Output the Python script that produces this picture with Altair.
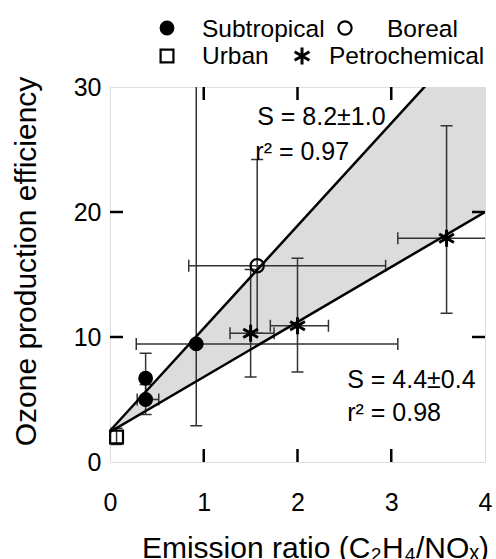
import altair as alt
import pandas as pd
import numpy as np

# ---------------- data ----------------
categories = ["Subtropical", "Boreal", "Urban", "Petrochemical"]

pt_type = ["Subtropical", "Subtropical", "Subtropical", "Boreal", "Urban",
           "Petrochemical", "Petrochemical", "Petrochemical"]
pt_x = [0.38, 0.38, 0.92, 1.57, 0.07, 1.50, 2.00, 3.59]
pt_y = [6.7, 5.0, 9.45, 15.7, 2.0, 10.3, 10.9, 17.9]

# vertical error bars (y low / y high)
ey_x = [0.38, 0.38, 0.92, 1.57, 0.07, 1.50, 2.00, 3.59]
ey_lo = [4.7, 3.8, 2.9, 10.3, 1.4, 6.8, 7.2, 11.9]
ey_hi = [8.7, 6.2, 33.0, 24.2, 2.7, 15.4, 16.3, 26.9]

# horizontal error bars (x low / x high)
ex_y = [5.0, 9.45, 15.7, 10.3, 10.9, 17.9]
ex_lo = [0.29, 0.28, 0.84, 1.28, 1.71, 3.07]
ex_hi = [0.52, 3.07, 2.94, 1.75, 2.33, 4.20]

# regression fits
fit_slope = [8.2, 4.4]
fit_icpt = [2.5, 2.4]
fit_xrange = [0.0, 4.0]
fit_labels = [["S = 8.2\u00b11.0", "r\u00b2 = 0.97"], ["S = 4.4\u00b10.4", "r\u00b2 = 0.98"]]

x_ticks = [0, 1, 2, 3, 4]
y_ticks = [0, 10, 20, 30]
inner_x_ticks = [1, 2, 3]
inner_y_ticks = [10, 20]

FONT = "Liberation Sans"
ASTERISK = "M0,-1L0,1M-0.866,-0.5L0.866,0.5M-0.866,0.5L0.866,-0.5"

# marker style per category
sym_style = {
    "Subtropical": dict(shape="circle", fill="black", size=165, strokeWidth=2.0),
    "Boreal": dict(shape="circle", fill="transparent", size=175, strokeWidth=2.2),
    "Urban": dict(shape="square", fill="transparent", size=165, strokeWidth=2.2),
    "Petrochemical": dict(shape=ASTERISK, fill="black", size=290, strokeWidth=3.0),
}

# ---------------- tables ----------------
points = pd.DataFrame({"type": pt_type, "x": pt_x, "y": pt_y})
yerr = pd.DataFrame({"x": ey_x, "lo": ey_lo, "hi": ey_hi})
xerr = pd.DataFrame({"y": ex_y, "lo": ex_lo, "hi": ex_hi})
xs = np.array(fit_xrange)
fits = pd.DataFrame({
    "x": np.concatenate([xs, xs]),
    "y": np.concatenate([fit_icpt[0] + fit_slope[0] * xs, fit_icpt[1] + fit_slope[1] * xs]),
    "fit": ["upper", "upper", "lower", "lower"],
})
band = pd.DataFrame({
    "x": xs,
    "lo": fit_icpt[1] + fit_slope[1] * xs,
    "hi": fit_icpt[0] + fit_slope[0] * xs,
})
one = pd.DataFrame({"k": [0]})

xscale = alt.Scale(domain=[0, 4], nice=False, zero=False)
yscale = alt.Scale(domain=[0, 30], nice=False, zero=False)

xaxis = alt.Axis(values=x_ticks, format="d", domain=False, ticks=False, grid=False,
                 labelFontSize=25, labelFont=FONT, labelColor="black",
                 labelPadding=28, labelFlush=False, labelOverlap=False,
                 title="Emission ratio (C\u2082H\u2084/NO\u2093)",
                 titleFontSize=30, titleFont=FONT, titleFontWeight="normal",
                 titleColor="black", titleX=205, titleY=95,
                 titleBaseline="alphabetic", titleAlign="center")
yaxis = alt.Axis(values=y_ticks, format="d", domain=False, ticks=False, grid=False,
                 labelFontSize=25, labelFont=FONT, labelColor="black",
                 labelPadding=9, labelFlush=False, labelOverlap=False,
                 title="Ozone production efficiency",
                 titleFontSize=30, titleFont=FONT, titleFontWeight="normal",
                 titleColor="black", titleX=-75, titleY=174, titleAngle=-90,
                 titleBaseline="alphabetic", titleAlign="center")

area = alt.Chart(band).mark_area(color="#dcdcdc", opacity=1, clip=True).encode(
    x=alt.X("x:Q", scale=xscale, axis=xaxis),
    y=alt.Y("lo:Q", scale=yscale, axis=yaxis),
    y2="hi:Q",
)

ERR = "#333333"
EW = 1.5
vrules = alt.Chart(yerr).mark_rule(color=ERR, strokeWidth=EW, clip=True).encode(
    x=alt.X("x:Q", scale=xscale), y=alt.Y("lo:Q", scale=yscale), y2="hi:Q")
vcap_lo = alt.Chart(yerr).mark_tick(orient="horizontal", size=12, thickness=EW,
                                    color=ERR, opacity=1, clip=True).encode(
    x=alt.X("x:Q", scale=xscale), y=alt.Y("lo:Q", scale=yscale))
vcap_hi = alt.Chart(yerr).mark_tick(orient="horizontal", size=12, thickness=EW,
                                    color=ERR, opacity=1, clip=True).encode(
    x=alt.X("x:Q", scale=xscale), y=alt.Y("hi:Q", scale=yscale))

hrules = alt.Chart(xerr).mark_rule(color=ERR, strokeWidth=EW, clip=True).encode(
    y=alt.Y("y:Q", scale=yscale), x=alt.X("lo:Q", scale=xscale), x2="hi:Q")
hcap_lo = alt.Chart(xerr).mark_tick(orient="vertical", size=12, thickness=EW,
                                    color=ERR, opacity=1, clip=True).encode(
    y=alt.Y("y:Q", scale=yscale), x=alt.X("lo:Q", scale=xscale))
hcap_hi = alt.Chart(xerr).mark_tick(orient="vertical", size=12, thickness=EW,
                                    color=ERR, opacity=1, clip=True).encode(
    y=alt.Y("y:Q", scale=yscale), x=alt.X("hi:Q", scale=xscale))

lines = alt.Chart(fits).mark_line(color="black", strokeWidth=2.5, clip=True).encode(
    x=alt.X("x:Q", scale=xscale), y=alt.Y("y:Q", scale=yscale), detail="fit:N")

point_layers = []
for cat in categories:
    st = sym_style[cat]
    point_layers.append(
        alt.Chart(points).transform_filter(alt.datum.type == cat).mark_point(
            filled=True, opacity=1, stroke="black", **st).encode(
            x=alt.X("x:Q", scale=xscale), y=alt.Y("y:Q", scale=yscale)))


def ann(txt, x, y):
    return alt.Chart(one).mark_text(align="left", baseline="middle", fontSize=25,
                                    font=FONT, color="black").encode(
        x=alt.datum(x), y=alt.datum(y), text=alt.value(txt))


texts = [ann(fit_labels[0][0], 1.57, 27.6), ann(fit_labels[0][1], 1.55, 24.8),
         ann(fit_labels[1][0], 2.53, 6.6), ann(fit_labels[1][1], 2.53, 3.9)]

# ---- hand-placed legend (two rows, flowing like the original) ----
legend_place = {  # category: (symbol x, symbol y, label x, label baseline y) in px from plot origin
    "Subtropical": (57, -59, 92, -50),
    "Boreal": (235, -59, 277, -50),
    "Urban": (57, -31, 92, -23),
    "Petrochemical": (192, -31, 219, -23),
}
legend_layers = []
for cat in categories:
    sx, sy, lx, ly = legend_place[cat]
    d = pd.DataFrame({"type": [cat]})
    legend_layers.append(
        alt.Chart(d).mark_point(filled=True, opacity=1, stroke="black",
                                **sym_style[cat]).encode(
            x=alt.value(sx), y=alt.value(sy)))
    legend_layers.append(
        alt.Chart(d).mark_text(align="left", baseline="alphabetic", fontSize=24.5,
                               font=FONT, color="black").encode(
            x=alt.value(lx), y=alt.value(ly), text="type:N"))

tx = pd.DataFrame({"t": inner_x_ticks})
ty = pd.DataFrame({"t": inner_y_ticks})
tick_kw = dict(size=26, thickness=2.5, color="black", opacity=1, clip=True)
bt = alt.Chart(tx).mark_tick(orient="vertical", **tick_kw).encode(
    x=alt.X("t:Q", scale=xscale), y=alt.datum(0))
tt = alt.Chart(tx).mark_tick(orient="vertical", **tick_kw).encode(
    x=alt.X("t:Q", scale=xscale), y=alt.datum(30))
lt = alt.Chart(ty).mark_tick(orient="horizontal", **tick_kw).encode(
    y=alt.Y("t:Q", scale=yscale), x=alt.datum(0))
rt = alt.Chart(ty).mark_tick(orient="horizontal", **tick_kw).encode(
    y=alt.Y("t:Q", scale=yscale), x=alt.datum(4))

chart = alt.layer(area, vrules, vcap_lo, vcap_hi, hrules, hcap_lo, hcap_hi,
                  lines, *point_layers, *texts, *legend_layers, bt, tt, lt, rt).properties(
    width=375, height=375,
    autosize=alt.AutoSizeParams(type="none"),
    padding={"left": 110, "top": 87, "right": 11, "bottom": 97},
    background="white",
).configure_view(stroke="black", strokeWidth=2.5).configure(font=FONT)

chart.save("out.html", embed_options={"renderer": "svg", "actions": False})
